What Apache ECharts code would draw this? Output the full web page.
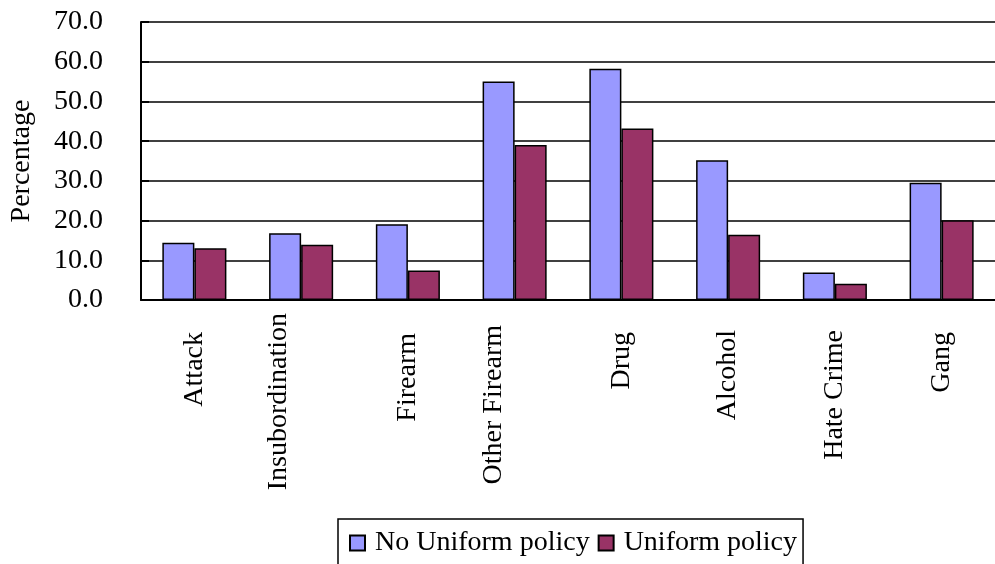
<!DOCTYPE html>
<html>
<head>
<meta charset="utf-8">
<script src="https://cdn.jsdelivr.net/npm/echarts@6/dist/echarts.min.js"></script>
<style>
html,body{margin:0;padding:0;background:#fff;}
#chart{width:995px;height:564px;}
</style>
</head>
<body>
<div id="chart"></div>
<script>
const categories = ['Attack', 'Insubordination', 'Firearm', 'Other Firearm', 'Drug', 'Alcohol', 'Hate Crime', 'Gang'];
const noUniform = [14.4, 16.8, 19.1, 55.0, 58.2, 35.2, 6.9, 29.5];
const uniform = [13.0, 13.9, 7.4, 39.0, 43.2, 16.4, 4.1, 20.1];
const seriesNames = ['No Uniform policy', 'Uniform policy'];
const yTicks = [0, 10, 20, 30, 40, 50, 60, 70];

const FONT = '"Liberation Serif", "Times New Roman", serif';
// label placement tweaks (layout only): [shift away from axis, shift left]
const labelLayout = {
  'Attack': [20, 0],
  'Insubordination': [1, 22],
  'Firearm': [21, 0],
  'Other Firearm': [13, 21],
  'Drug': [20, 0],
  'Alcohol': [18, 0],
  'Hate Crime': [18, 0],
  'Gang': [20, 0]
};
const catData = categories.map(c => {
  const p = labelLayout[c] || [0, 0];
  const ts = { padding: [0, p[0], 0, 0] };
  if (p[1] > 0) ts.lineHeight = p[1] * 2;
  return { value: c, textStyle: ts };
});

const chart = echarts.init(document.getElementById('chart'), null, { renderer: 'canvas' });
chart.setOption({
  animation: false,
  backgroundColor: '#ffffff',
  textStyle: { fontFamily: FONT },
  grid: { left: 140, top: 22, right: 0, bottom: 264, containLabel: false },
  legend: {
    data: seriesNames,
    left: 338, top: 519,
    orient: 'horizontal',
    padding: [10, 6, 10, 11],
    itemWidth: 15, itemHeight: 15, itemGap: 8,
    borderColor: '#000', borderWidth: 1.5,
    icon: 'rect',
    textStyle: { fontFamily: FONT, fontSize: 28, color: '#000', padding: [0, 0, 0, 5] }
  },
  xAxis: {
    type: 'category',
    data: catData,
    axisLine: { lineStyle: { color: '#000', width: 2 } },
    axisTick: { inside: true, length: 9, lineStyle: { color: '#000', width: 2 } },
    axisLabel: {
      interval: 0, rotate: 90, margin: 12,
      fontFamily: FONT, fontSize: 28, color: '#000',
      formatter: v => (labelLayout[v] && labelLayout[v][1] > 0) ? v + '\n ' : v
    },
    splitLine: { show: false }
  },
  yAxis: {
    type: 'value',
    min: yTicks[0], max: yTicks[yTicks.length - 1], interval: 10,
    name: 'Percentage',
    nameLocation: 'middle', nameRotate: 90, nameGap: 105,
    nameTextStyle: { fontFamily: FONT, fontSize: 28, color: '#000' },
    axisLine: { show: true, lineStyle: { color: '#000', width: 2 } },
    axisTick: { show: true, inside: true, length: 8, lineStyle: { color: '#000', width: 2 } },
    axisLabel: {
      margin: 38, fontFamily: FONT, fontSize: 28, color: '#000',
      formatter: v => v.toFixed(1)
    },
    splitLine: { show: true, lineStyle: { color: '#000', width: 1.5 } }
  },
  series: [
    {
      name: seriesNames[0], type: 'bar', data: noUniform,
      barGap: '0%', barCategoryGap: '40%',
      itemStyle: { color: '#9999FF', borderColor: '#000', borderWidth: 1.5 }
    },
    {
      name: seriesNames[1], type: 'bar', data: uniform,
      barGap: '0%', barCategoryGap: '40%',
      itemStyle: { color: '#993366', borderColor: '#000', borderWidth: 1.5 }
    }
  ]
});
</script>
</body>
</html>
